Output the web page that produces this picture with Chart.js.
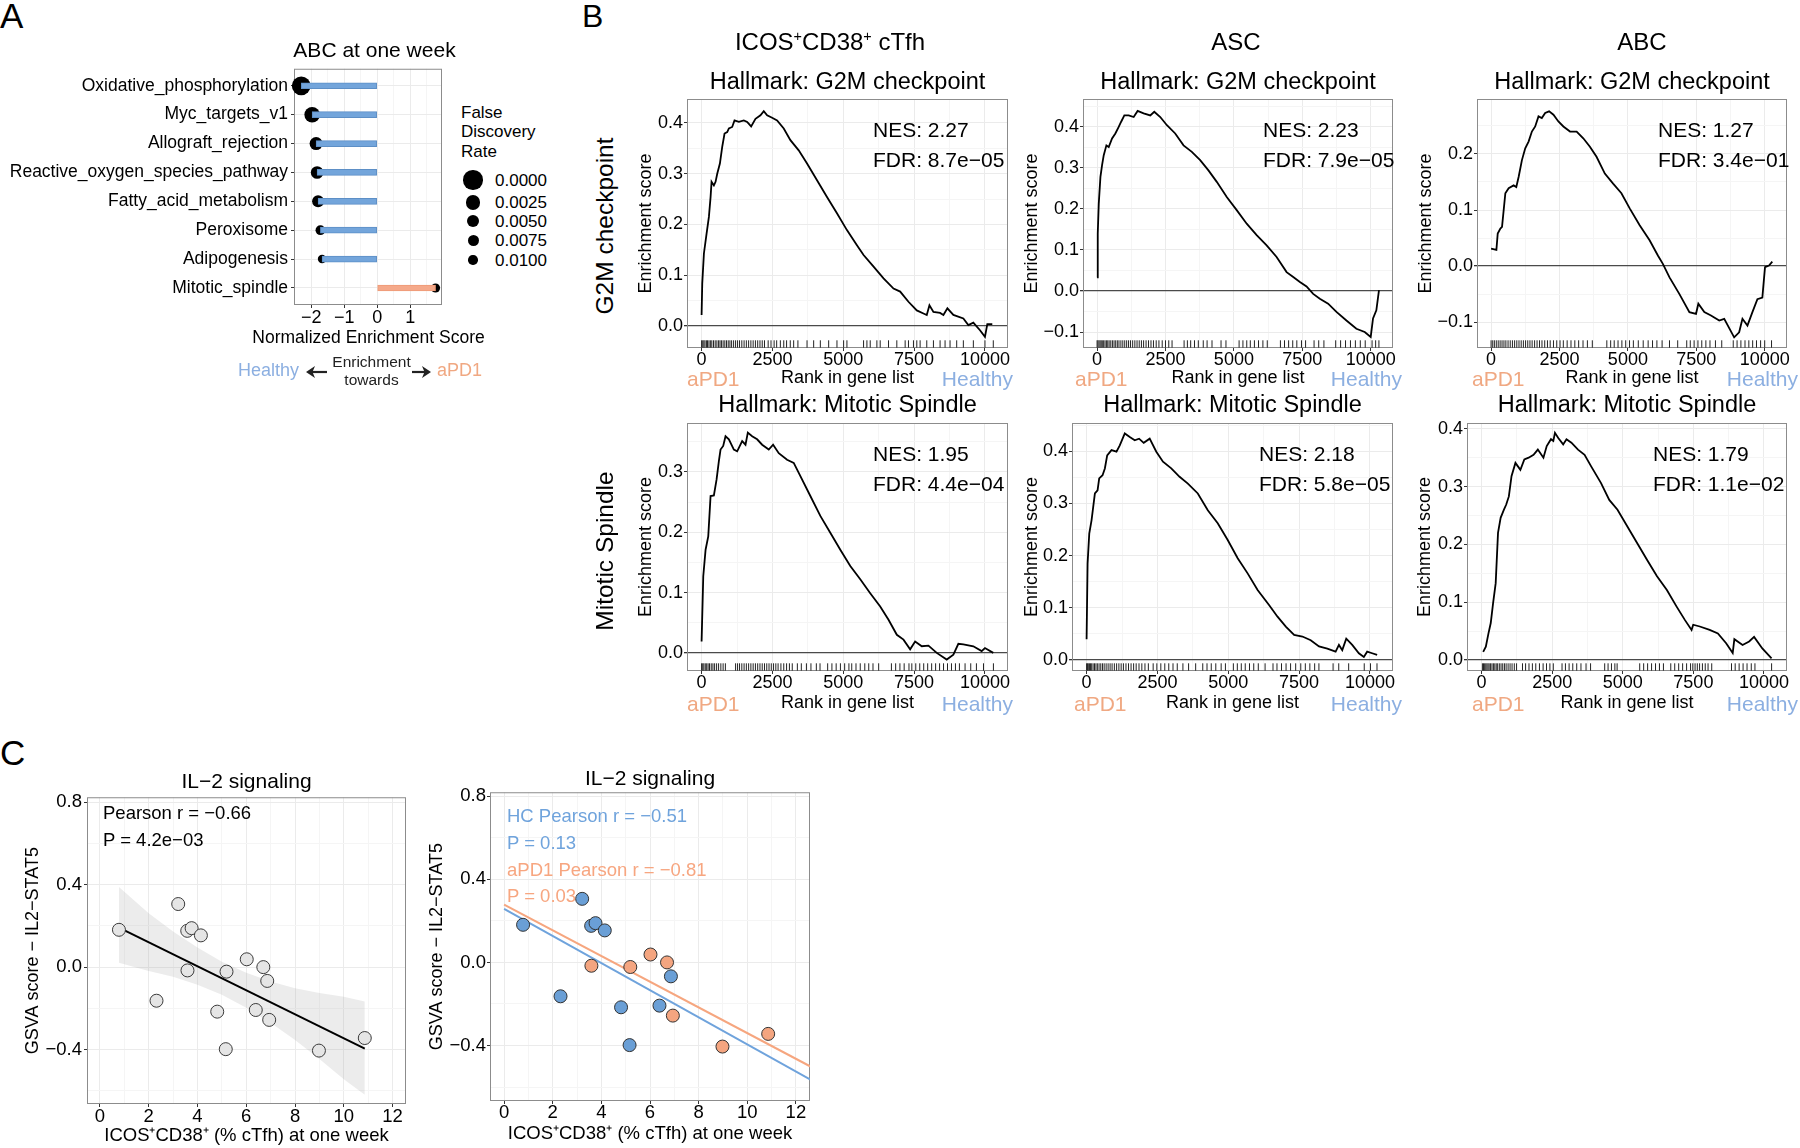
<!DOCTYPE html>
<html>
<head>
<meta charset="utf-8">
<script src="https://cdn.jsdelivr.net/npm/chart.js@4.4.1/dist/chart.umd.min.js"></script>
<style>
html, body { margin: 0; padding: 0; background: #fff; overflow: hidden; }
#page { position: relative; width: 1800px; height: 1148px; font-family: "Liberation Sans", Arial, sans-serif; color: #000; }
canvas { position: absolute; }
.t { position: absolute; white-space: nowrap; line-height: 1; }
.t sup { font-size: 0.6em; vertical-align: 0.6em; line-height: 0; }
</style>
</head>
<body>
<div id="page"></div>
<script>
// ---- panel A: ABC at one week ----
var pathways = ['Oxidative_phosphorylation', 'Myc_targets_v1', 'Allograft_rejection', 'Reactive_oxygen_species_pathway',
                'Fatty_acid_metabolism', 'Peroxisome', 'Adipogenesis', 'Mitotic_spindle'];
var nesValues = [-2.30, -1.97, -1.85, -1.82, -1.79, -1.72, -1.67, 1.77];
var fdrValues = [0.0003, 0.002, 0.0045, 0.005, 0.006, 0.0095, 0.0115, 0.0105];
var fdrLegend = [0, 0.0025, 0.005, 0.0075, 0.01];

// ---- panel B: running enrichment scores (rank, ES) and hit ranks ----
var ctfhG2mRank = [0,23,82,176,258,317,352,434,493,552,646,728,810,904,963,1080,1162,1315,1491,1608,1749,1902,2078,2195,2313,2489,2665,2900,3135,3428,3722,4074,4426,4778,5130,5483,5717,6070,6422,6774,7009,7302,7596,7831,7948,8042,8183,8418,8535,8676,8887,9239,9415,9592,9826,10002,10085,10261];
var ctfhG2mES = [0.022,0.084,0.143,0.182,0.215,0.254,0.284,0.277,0.284,0.300,0.320,0.353,0.379,0.382,0.389,0.392,0.405,0.402,0.405,0.402,0.393,0.408,0.415,0.423,0.415,0.410,0.405,0.389,0.366,0.346,0.320,0.287,0.254,0.222,0.189,0.159,0.140,0.117,0.094,0.074,0.068,0.048,0.031,0.025,0.022,0.041,0.028,0.026,0.022,0.035,0.022,0.015,0.002,0.007,-0.008,-0.021,0.004,0.004];
var ctfhG2mHits = [0,40,80,120,170,210,260,310,360,420,480,540,600,650,700,760,820,880,940,1000,1060,1130,1200,1270,1340,1420,1500,1580,1660,1740,1820,1900,1980,2060,2140,2220,2350,2450,2560,2650,2780,2900,3000,3130,3250,3400,3722,3956,4191,4485,4778,5013,5130,5717,5835,5952,6187,6304,6598,6891,7185,7302,7478,7596,7713,7948,8183,8418,8594,8770,9004,9239,9592,10002,10296];

var ascG2mRank = [0,24,61,122,182,243,340,425,547,668,790,875,996,1154,1337,1482,1701,1944,2090,2309,2552,2855,3159,3463,3767,4070,4374,4739,5103,5468,5832,6197,6561,6926,7169,7412,7655,7898,8141,8444,8748,9113,9477,9781,10000,10085,10206,10303];
var ascG2mES = [0.033,0.140,0.213,0.278,0.307,0.331,0.355,0.351,0.372,0.384,0.400,0.412,0.428,0.428,0.424,0.439,0.433,0.428,0.437,0.424,0.404,0.384,0.355,0.339,0.319,0.294,0.266,0.229,0.197,0.164,0.136,0.111,0.083,0.046,0.034,0.022,0.011,-0.007,-0.019,-0.031,-0.051,-0.072,-0.092,-0.100,-0.112,-0.067,-0.047,0.002];
var ascG2mHits = [0,30,70,110,150,190,240,290,340,390,440,500,560,620,680,740,800,870,940,1010,1080,1150,1220,1300,1380,1460,1540,1620,1700,1790,1880,1970,2060,2160,2260,2380,2500,2620,2740,3180,3300,3420,3560,3700,3880,4020,4200,4530,4710,5190,5330,5470,5600,5750,5900,6060,6220,6700,6850,7000,7150,7300,7470,7620,7930,8100,8290,8720,8900,9080,9260,9440,9620,9800,10050,10180,10300];

var abcG2mRank = [0,194,242,339,400,521,642,824,921,1006,1127,1248,1370,1491,1612,1733,1854,1976,2121,2279,2460,2642,2885,3127,3369,3612,3854,4157,4460,4763,5066,5430,5793,6096,6278,6521,6884,7248,7490,7575,7793,8036,8339,8521,8884,9066,9187,9369,9551,9733,9914,10011,10157,10278];
var abcG2mES = [0.031,0.029,0.058,0.067,0.070,0.130,0.139,0.144,0.141,0.159,0.189,0.210,0.222,0.240,0.249,0.267,0.264,0.273,0.276,0.270,0.258,0.249,0.240,0.240,0.228,0.213,0.195,0.165,0.147,0.130,0.103,0.073,0.046,0.019,0.004,-0.020,-0.050,-0.082,-0.085,-0.067,-0.082,-0.088,-0.097,-0.094,-0.127,-0.118,-0.094,-0.106,-0.082,-0.059,-0.056,-0.002,0.001,0.008];
var abcG2mHits = [0,60,120,190,260,330,400,470,540,620,700,780,860,940,1020,1100,1180,1260,1340,1420,1500,1590,1680,1770,1860,1960,2060,2160,2280,2400,2520,2640,2780,2920,3060,3200,3360,3520,3700,4230,4370,4500,4640,4780,4920,5060,5200,5380,5560,5740,5900,6060,6250,6520,6820,7150,7280,7420,7560,7700,7850,8000,8200,8430,8850,8990,9130,9280,9420,9560,9700,9850,10000,10250];

var ctfhMsRank = [0,59,141,235,317,434,528,610,669,763,845,963,1139,1256,1432,1550,1632,1784,1960,2137,2371,2524,2724,3017,3252,3487,3839,4191,4543,4896,5248,5600,5952,6304,6598,6891,7126,7361,7537,7772,8007,8300,8652,8887,9063,9239,9592,9885,10002,10296];
var ctfhMsES = [0.019,0.127,0.171,0.193,0.260,0.261,0.287,0.318,0.337,0.343,0.359,0.354,0.337,0.334,0.351,0.345,0.365,0.359,0.354,0.345,0.337,0.345,0.331,0.320,0.315,0.293,0.260,0.227,0.199,0.171,0.144,0.122,0.099,0.077,0.055,0.030,0.022,0.006,0.019,0.011,0.012,0.000,-0.011,-0.003,0.015,0.014,0.011,0.003,0.008,0.000];
var ctfhMsHits = [0,40,80,130,180,230,280,340,400,460,530,600,680,760,840,1200,1270,1340,1420,1500,1580,1660,1740,1820,1900,1980,2060,2140,2220,2300,2380,2460,2540,2620,2700,2800,2900,3000,3100,3200,3380,3520,3700,3860,4050,4180,4450,4600,4750,4900,5050,5200,5300,5450,5600,5760,5900,6050,6250,6700,6850,7000,7150,7320,7420,7560,7700,7840,7980,8120,8260,8400,8540,8680,8820,8960,9100,9300,9500,9700,9950,10300];

var ascMsRank = [0,35,94,176,293,387,445,563,645,727,879,1055,1172,1348,1524,1699,1852,2016,2227,2461,2696,2989,3282,3575,3926,4278,4629,4981,5333,5684,6036,6446,6739,7032,7325,7618,7911,8204,8497,8790,8907,9024,9165,9376,9610,9786,9903,10079,10255];
var ascMsES = [0.040,0.185,0.242,0.268,0.319,0.325,0.348,0.354,0.367,0.392,0.402,0.399,0.411,0.434,0.427,0.421,0.424,0.416,0.424,0.399,0.380,0.367,0.351,0.338,0.319,0.287,0.262,0.230,0.195,0.166,0.134,0.105,0.083,0.064,0.048,0.045,0.038,0.026,0.022,0.016,0.029,0.019,0.041,0.029,0.013,0.006,0.016,0.013,0.010];
var ascMsHits = [0,30,60,100,140,180,230,280,330,380,440,500,560,620,690,760,830,900,980,1060,1140,1220,1300,1390,1480,1570,1660,1750,1850,1950,2060,2180,2350,2480,2620,2760,2900,3050,3200,3400,3600,3850,4100,4250,4400,4560,4750,4900,5180,5320,5460,5600,5750,5900,6060,6300,6580,6720,6880,7040,7200,7380,7560,7720,7880,8050,8200,8700,8900,9250,9800,10020,10250];

var abcMsRank = [58,152,245,326,408,501,583,676,793,874,967,1061,1200,1375,1515,1667,1841,1993,2191,2308,2459,2541,2599,2716,2890,3007,3182,3415,3648,3881,4231,4522,4814,5163,5513,5863,6212,6562,6912,7203,7436,7494,7727,8077,8368,8660,8893,8951,9242,9475,9650,9941,10268];
var abcMsES = [0.014,0.023,0.046,0.064,0.098,0.133,0.220,0.246,0.260,0.269,0.283,0.318,0.341,0.329,0.347,0.350,0.355,0.364,0.350,0.370,0.382,0.379,0.393,0.384,0.373,0.382,0.376,0.364,0.355,0.335,0.306,0.277,0.260,0.231,0.202,0.173,0.145,0.121,0.092,0.069,0.052,0.061,0.058,0.052,0.046,0.029,0.012,0.036,0.026,0.032,0.040,0.020,0.003];
var abcMsHits = [30,70,110,150,190,230,270,320,370,420,470,520,570,630,690,750,810,870,940,1010,1080,1160,1240,1450,1560,1680,1800,1920,2050,2180,2300,2420,2540,2850,2970,3100,3230,3370,3520,3700,3860,4360,4480,4600,4720,4800,5600,5740,5880,6020,6160,6300,6440,6700,6840,6980,7120,7260,7400,7480,7560,7640,7720,7820,7920,8020,8150,8850,8980,9120,9260,9400,9550,9680,10270];

var gseaNes = ['2.27', '2.23', '1.27', '1.95', '2.18', '1.79'];
var gseaFdr = ['8.7e\u221205', '7.9e\u221205', '3.4e\u221201', '4.4e\u221204', '5.8e\u221205', '1.1e\u221202'];

// ---- panel C: IL-2 signaling ----
var icosPct   = [0.78, 3.21, 3.58, 3.76, 4.14, 3.59, 2.32, 5.19, 6.02, 6.70, 6.86, 4.81, 6.39, 6.94, 5.16, 8.98, 10.86];
var gsvaScore = [0.181, 0.306, 0.176, 0.189, 0.154, -0.016, -0.163, -0.022, 0.038, 0.000, -0.067, -0.216, -0.208, -0.256, -0.398, -0.405, -0.344];
var cohort    = ['HC','HC','HC','HC','HC','aPD1','HC','aPD1','aPD1','aPD1','HC','HC','HC','aPD1','HC','aPD1','aPD1'];
var allFitX = [0.78, 10.86];
var allFitY = [0.192, -0.395];
var bandX     = [0.78, 2, 3, 4, 5, 6, 7, 8, 9, 10, 10.86];
var bandUpper = [0.389, 0.261, 0.173, 0.095, 0.026, -0.027, -0.070, -0.103, -0.126, -0.144, -0.167];
var bandLower = [0.021, -0.019, -0.047, -0.085, -0.134, -0.197, -0.270, -0.353, -0.446, -0.544, -0.619];
var hcFitX = [0, 12.6];
var hcFitY = [0.258, -0.564];
var pd1FitX = [0, 12.6];
var pd1FitY = [0.278, -0.501];

var BLUE = '#73a5db', SALMON = '#f5a98a';
var TXT_BLUE = '#8cafe1', TXT_SALMON = '#f0a882';
var PT_BLUE = '#6a9fd6', PT_SALMON = '#f4a580';

var page = document.getElementById('page');
Chart.defaults.font.family = '"Liberation Sans", Arial, sans-serif';
Chart.defaults.color = '#000';

// panel border drawn under the marks
Chart.register({
    id: 'panelBox',
    beforeDatasetsDraw: function(chart) {
        var a = chart.chartArea, ctx = chart.ctx;
        ctx.save();
        ctx.strokeStyle = '#8c8c8c';
        ctx.lineWidth = 1;
        ctx.strokeRect(a.left + 0.5, a.top + 0.5, a.right - a.left - 1, a.bottom - a.top - 1);
        ctx.restore();
    }
});

function txt(html, x, y, size, o) {
    o = o || {};
    var d = document.createElement('div');
    d.className = 't';
    d.innerHTML = html;
    d.style.fontSize = size + 'px';
    if (o.color) d.style.color = o.color;
    if (o.rot) {
        d.style.left = x + 'px';
        d.style.top = y + 'px';
        d.style.transform = 'translate(-50%,-50%) rotate(-90deg)';
    } else {
        d.style.top = (y - 0.49 * size) + 'px';
        if (o.align == 'center') { d.style.left = x + 'px'; d.style.transform = 'translateX(-50%)'; }
        else if (o.align == 'right') { d.style.right = (1800 - x) + 'px'; }
        else d.style.left = x + 'px';
    }
    page.appendChild(d);
}

function makeCanvas(left, top, w, h) {
    var c = document.createElement('canvas');
    c.width = w; c.height = h;
    c.style.left = left + 'px'; c.style.top = top + 'px';
    c.style.width = w + 'px'; c.style.height = h + 'px';
    page.appendChild(c);
    return c;
}

function isMult(v, step) {
    var q = v / step;
    return Math.abs(q - Math.round(q)) < 1e-6;
}
function fmtNum(v, d) {
    if (Math.abs(v) < 1e-9) v = 0;
    return v.toFixed(d).replace('-', '\u2212');
}

function linAxis(o) {
    var isZero = function(c) { return o.zero && c.tick && Math.abs(c.tick.value) < 1e-9; };
    return {
        type: 'linear', min: o.min, max: o.max, reverse: !!o.reverse, offset: false,
        afterFit: function(s) { if (o.isX) s.height = o.size; else s.width = o.size; },
        // ticks on every minor step inside the range (labels only on major ones)
        afterBuildTicks: function(s) {
            var t = [];
            for (var k = Math.ceil(o.min / o.minor - 1e-9); k * o.minor <= o.max + 1e-9; k++) {
                t.push({ value: Math.round(k * o.minor * 1e6) / 1e6 });
            }
            s.ticks = t;
        },
        border: { display: false },
        grid: {
            offset: false,
            color: function(c) {
                if (isZero(c)) return '#4a4a4a';
                return (c.tick && isMult(c.tick.value, o.major)) ? '#ebebeb' : '#f5f5f5';
            },
            lineWidth: function(c) { return isZero(c) ? 1.3 : 1; },
            tickColor: function(c) { return (c.tick && isMult(c.tick.value, o.major)) ? '#333' : 'rgba(0,0,0,0)'; },
            tickLength: 3
        },
        ticks: {
            autoSkip: false, maxRotation: 0, minRotation: 0,
            padding: o.pad, color: '#000', font: { size: o.font, lineHeight: 1 },
            callback: function(v) { return isMult(v, o.major) ? o.fmt(v) : ''; }
        },
        title: {
            display: !!o.title, text: o.title, color: '#000', font: { size: o.titleFont, lineHeight: 1.2 },
            padding: o.isX ? { top: 0, bottom: o.titlePad } : { top: o.titlePad, bottom: 0 }
        }
    };
}

function baseOpts(o) {
    return {
        responsive: false, animation: false, devicePixelRatio: 1, events: [],
        indexAxis: o.indexAxis || 'x',
        layout: { padding: o.padding, autoPadding: false },
        plugins: { legend: { display: false }, tooltip: { enabled: false }, title: { display: false } },
        scales: { x: o.x, y: o.y }
    };
}

// FDR -> point radius (ggplot size scale)
var fdrRadiusStops = [9.7, 7.3, 6.3, 5.5, 4.7];
function fdrRadius(f) {
    var step = 0.0025;
    var i = Math.min(Math.max(Math.floor(f / step), 0), fdrRadiusStops.length - 2);
    var t = (f - i * step) / step;
    return fdrRadiusStops[i] + (fdrRadiusStops[i + 1] - fdrRadiusStops[i]) * t;
}

// ================= Panel A =================
(function() {
    var box = [294, 67, 442, 305], W = 294, H = 46, PT = 10, PR = 6;
    var cv = makeCanvas(box[0] - W, box[1] - PT, box[2] - box[0] + W + PR, box[3] - box[1] + PT + H);
    new Chart(cv, {
        type: 'bar',
        data: {
            datasets: [
                {
                    type: 'bar',
                    data: pathways.map(function(p, i) { return { x: [0, nesValues[i]], y: i }; }),
                    backgroundColor: nesValues.map(function(v) { return v < 0 ? BLUE : SALMON; }),
                    borderColor: nesValues.map(function(v) { return v < 0 ? '#5d8fc6' : '#ee9a76'; }),
                    borderWidth: 1, borderSkipped: false, barThickness: 6, order: 0
                },
                {
                    type: 'line',
                    data: pathways.map(function(p, i) { return { x: nesValues[i], y: i }; }),
                    showLine: false, clip: false,
                    pointRadius: fdrValues.map(fdrRadius),
                    pointBackgroundColor: '#000', pointBorderColor: '#000', pointBorderWidth: 0, order: 1
                }
            ]
        },
        options: baseOpts({
            indexAxis: 'y',
            padding: { top: PT, right: PR, left: 0, bottom: 0 },
            x: linAxis({ isX: true, size: H, min: -2.52, max: 1.965, minor: 0.5, major: 1, font: 18, pad: 1,
                         fmt: function(v) { return fmtNum(v, 0); } }),
            y: linAxis({ size: W, min: -0.59, max: 7.59, reverse: true, minor: 1, major: 1, font: 17.5, pad: 3,
                         fmt: function(v) { return pathways[Math.round(v)] || ''; } })
        })
    });

    txt('A', 0, 15.5, 35);
    txt('ABC at one week', 374.5, 49.5, 21, { align: 'center' });
    txt('Normalized Enrichment Score', 368.5, 338, 17.5, { align: 'center' });
    txt('False', 461, 112.7, 17);
    txt('Discovery', 461, 131.5, 17);
    txt('Rate', 461, 151, 17);
    var legendY = [180, 202.7, 221, 240.7, 260];
    fdrLegend.forEach(function(f, i) {
        var r = fdrRadius(f);
        var d = document.createElement('div');
        d.style.cssText = 'position:absolute;left:' + (473 - r) + 'px;top:' + (legendY[i] - r) + 'px;width:' + (2 * r) +
                          'px;height:' + (2 * r) + 'px;border-radius:50%;background:#000';
        page.appendChild(d);
        txt(f.toFixed(4), 495, legendY[i], 17);
    });

    txt('Healthy', 238, 370, 18, { color: TXT_BLUE });
    txt('aPD1', 437, 370, 18, { color: TXT_SALMON });
    txt('Enrichment', 371.5, 361.7, 15.5, { align: 'center', color: '#222' });
    txt('towards', 371.5, 380, 15.5, { align: 'center', color: '#222' });
    var svg = document.createElementNS('http://www.w3.org/2000/svg', 'svg');
    svg.setAttribute('width', 140); svg.setAttribute('height', 24);
    svg.style.cssText = 'position:absolute;left:300px;top:360px';
    svg.innerHTML = '<line x1="12" y1="12" x2="27" y2="12" stroke="#222" stroke-width="2.2"/>' +
                    '<polygon points="6,12 15,6 12.5,12 15,18" fill="#222"/>' +
                    '<line x1="112" y1="12" x2="125" y2="12" stroke="#222" stroke-width="2.2"/>' +
                    '<polygon points="131,12 122,6 124.5,12 122,18" fill="#222"/>';
    page.appendChild(svg);
})();

// ================= Panel B =================
var gseaPanels = [
    { rank: ctfhG2mRank, es: ctfhG2mES, hits: ctfhG2mHits, box: [687, 99, 1008, 348], y: [-0.043, 0.447], yOff: 41, xOff: 30.5, nesX: 873, apdX: 687, hlX: 1013 },
    { rank: ascG2mRank, es: ascG2mES, hits: ascG2mHits, box: [1083, 99, 1393, 348], y: [-0.139, 0.468], yOff: 51, xOff: 30.5, nesX: 1263, apdX: 1075, hlX: 1402 },
    { rank: abcG2mRank, es: abcG2mES, hits: abcG2mHits, box: [1477, 99, 1787, 348], y: [-0.146, 0.298], yOff: 51, xOff: 30.5, nesX: 1658, apdX: 1472, hlX: 1798 },
    { rank: ctfhMsRank, es: ctfhMsES, hits: ctfhMsHits, box: [687, 423, 1008, 671], y: [-0.030, 0.381], yOff: 41, xOff: 32.4, nesX: 873, apdX: 687, hlX: 1013 },
    { rank: ascMsRank, es: ascMsES, hits: ascMsHits, box: [1072, 423, 1393, 671], y: [-0.021, 0.454], yOff: 40, xOff: 32.4, nesX: 1259, apdX: 1074, hlX: 1402 },
    { rank: abcMsRank, es: abcMsES, hits: abcMsHits, box: [1467, 423, 1787, 671], y: [-0.019, 0.410], yOff: 42, xOff: 32.4, nesX: 1653, apdX: 1472, hlX: 1798 }
];

gseaPanels.forEach(function(p, k) {
    var bl = p.box[0], bt = p.box[1], br = p.box[2], bb = p.box[3];
    var W = 65, H = 44, PT = 12, PR = 10;
    var cv = makeCanvas(bl - W, bt - PT, br - bl + W + PR, bb - bt + PT + H);
    var ppu = (bb - bt) / (p.y[1] - p.y[0]);
    var rugY = p.y[0] + 4 / ppu;
    new Chart(cv, {
        type: 'scatter',
        data: {
            datasets: [
                {
                    data: p.rank.map(function(r, i) { return { x: r, y: p.es[i] }; }),
                    showLine: true, borderColor: '#000', borderWidth: 1.8, pointRadius: 0, order: 0
                },
                {
                    data: p.hits.map(function(r) { return { x: r, y: rugY }; }),
                    pointStyle: 'line', pointRotation: 90, pointRadius: 3.7,
                    pointBorderColor: '#222', pointBorderWidth: 1, order: 1
                }
            ]
        },
        options: baseOpts({
            padding: { top: PT, right: PR, left: 0, bottom: 0 },
            x: linAxis({ isX: true, size: H, min: -515, max: 10815, minor: 1250, major: 2500, font: 18, pad: 0,
                         fmt: function(v) { return String(v); },
                         title: 'Rank in gene list', titleFont: 18, titlePad: H - p.xOff - 10.8 }),
            y: linAxis({ size: W, min: p.y[0], max: p.y[1], minor: 0.05, major: 0.1, font: 18, pad: 1, zero: true,
                         fmt: function(v) { return fmtNum(v, 1); },
                         title: 'Enrichment score', titleFont: 18, titlePad: W - p.yOff - 10.8 })
        })
    });

    var row2 = k >= 3;
    var cx = (bl + br) / 2;
    txt(row2 ? 'Hallmark: Mitotic Spindle' : 'Hallmark: G2M checkpoint', cx, row2 ? 405 : 82, 23.5, { align: 'center' });
    txt('NES: ' + gseaNes[k], p.nesX, row2 ? 453.3 : 129.5, 21);
    txt('FDR: ' + gseaFdr[k], p.nesX, row2 ? 483.3 : 159.5, 21);
    txt('aPD1', p.apdX, row2 ? 703 : 378, 21, { color: TXT_SALMON });
    txt('Healthy', p.hlX, row2 ? 703 : 378, 21, { align: 'right', color: TXT_BLUE });
});

txt('B', 582, 16, 32);
txt('ICOS<sup>+</sup>CD38<sup>+</sup> cTfh', 830, 41.7, 24, { align: 'center' });
txt('ASC', 1236, 41.7, 24, { align: 'center' });
txt('ABC', 1642, 41.7, 24, { align: 'center' });
txt('G2M checkpoint', 605, 226, 24.5, { rot: true });
txt('Mitotic Spindle', 605, 551, 24.5, { rot: true });

// ================= Panel C =================
var xTitleC = 'ICOS\u207ACD38\u207A (% cTfh) at one week';
var yTitleC = 'GSVA score \u2212 IL2\u2212STAT5';

function pairs(xs, ys) { return xs.map(function(x, i) { return { x: x, y: ys[i] }; }); }

// left: all donors
(function() {
    var box = [87, 796, 406, 1104], W = 80, H = 44, PT = 10, PR = 8;
    var cv = makeCanvas(box[0] - W, box[1] - PT, box[2] - box[0] + W + PR, box[3] - box[1] + PT + H);
    new Chart(cv, {
        type: 'scatter',
        data: {
            datasets: [
                { data: pairs(icosPct, gsvaScore), pointRadius: 6.5, pointBackgroundColor: '#e5e5e5',
                  pointBorderColor: '#3a3a3a', pointBorderWidth: 1, order: 0 },
                { type: 'line', data: pairs(allFitX, allFitY), borderColor: '#000', borderWidth: 2, pointRadius: 0, order: 1 },
                { type: 'line', data: pairs(bandX, bandUpper), fill: '+1', backgroundColor: 'rgba(160,160,160,0.2)',
                  borderColor: 'rgba(0,0,0,0)', borderWidth: 0, pointRadius: 0, order: 2 },
                { type: 'line', data: pairs(bandX, bandLower), fill: false,
                  borderColor: 'rgba(0,0,0,0)', borderWidth: 0, pointRadius: 0, order: 3 }
            ]
        },
        options: baseOpts({
            padding: { top: PT, right: PR, left: 0, bottom: 0 },
            x: linAxis({ isX: true, size: H, min: -0.53, max: 12.55, minor: 1, major: 2, font: 18.5, pad: 1,
                         fmt: function(v) { return fmtNum(v, 0); },
                         title: xTitleC, titleFont: 18.5, titlePad: 0.9 }),
            y: linAxis({ size: W, min: -0.664, max: 0.824, minor: 0.2, major: 0.4, font: 18.5, pad: 2,
                         fmt: function(v) { return fmtNum(v, 1); },
                         title: yTitleC, titleFont: 18, titlePad: 15.2 })
        })
    });
    txt('Pearson r = \u22120.66', 103, 813, 18.5);
    txt('P = 4.2e\u221203', 103, 840, 18.5);
})();

// right: split by cohort
(function() {
    var box = [490, 792, 810, 1101], W = 80, H = 44, PT = 10, PR = 8;
    var cv = makeCanvas(box[0] - W, box[1] - PT, box[2] - box[0] + W + PR, box[3] - box[1] + PT + H);
    var hc = [], pd1 = [];
    icosPct.forEach(function(x, i) {
        (cohort[i] == 'HC' ? hc : pd1).push({ x: x, y: gsvaScore[i] });
    });
    new Chart(cv, {
        type: 'scatter',
        data: {
            datasets: [
                { data: pd1, pointRadius: 6.5, pointBackgroundColor: PT_SALMON, pointBorderColor: '#333', pointBorderWidth: 1, order: 0 },
                { data: hc, pointRadius: 6.5, pointBackgroundColor: PT_BLUE, pointBorderColor: '#333', pointBorderWidth: 1, order: 1 },
                { type: 'line', data: pairs(pd1FitX, pd1FitY), borderColor: '#f6a67f', borderWidth: 2, pointRadius: 0, order: 2 },
                { type: 'line', data: pairs(hcFitX, hcFitY), borderColor: '#6fa3dc', borderWidth: 2, pointRadius: 0, order: 3 }
            ]
        },
        options: baseOpts({
            padding: { top: PT, right: PR, left: 0, bottom: 0 },
            x: linAxis({ isX: true, size: H, min: -0.58, max: 12.58, minor: 1, major: 2, font: 18.5, pad: 0,
                         fmt: function(v) { return fmtNum(v, 0); },
                         title: xTitleC, titleFont: 18.5, titlePad: 0 }),
            y: linAxis({ size: W, min: -0.667, max: 0.819, minor: 0.2, major: 0.4, font: 18.5, pad: 1,
                         fmt: function(v) { return fmtNum(v, 1); },
                         title: yTitleC, titleFont: 18, titlePad: 16.2 })
        })
    });
    txt('HC Pearson r = \u22120.51', 507, 816.5, 18.5, { color: '#6fa3dc' });
    txt('P = 0.13', 507, 843, 18.5, { color: '#6fa3dc' });
    txt('aPD1 Pearson r = \u22120.81', 507, 870, 18.5, { color: '#f7a680' });
    txt('P = 0.03', 507, 896.5, 18.5, { color: '#f7a680' });
})();

txt('C', 0, 752, 35);
txt('IL\u22122 signaling', 246.5, 780, 21, { align: 'center' });
txt('IL\u22122 signaling', 650, 777, 21, { align: 'center' });
</script>
</body>
</html>
